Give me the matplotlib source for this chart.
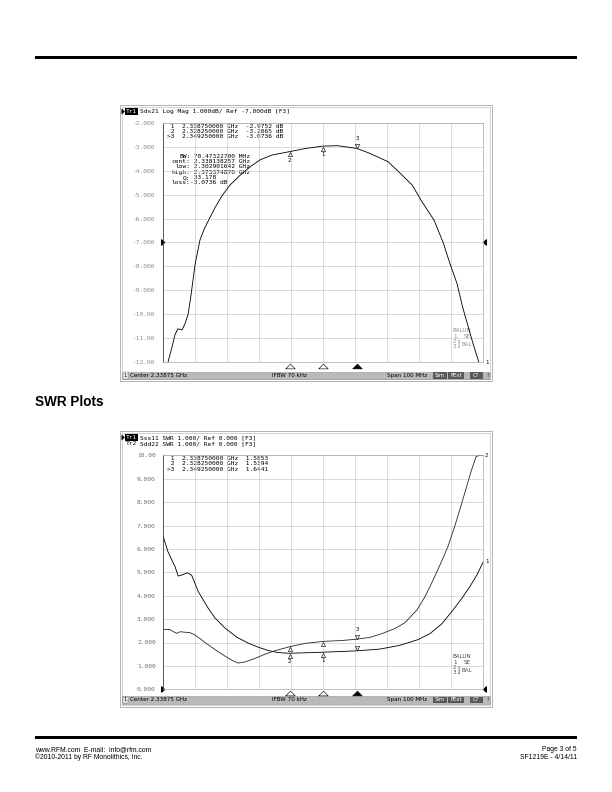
import numpy as np
import matplotlib
matplotlib.use("Agg")
import matplotlib.pyplot as plt
from matplotlib.patches import Rectangle, Polygon
from matplotlib.transforms import offset_copy, blended_transform_factory

# ---------------- data ----------------
f_center_ghz = 2.33875
f_span_ghz = 0.100

s21_freq_ghz = [2.2896, 2.2902, 2.2915, 2.2924, 2.2933, 2.2946, 2.2955, 2.2965, 2.2974,
                2.2987, 2.3002, 2.3015, 2.3029, 2.3049, 2.3071, 2.3096, 2.3127, 2.3158,
                2.3190, 2.3227, 2.32825, 2.3330, 2.33875, 2.3433, 2.34925, 2.3533,
                2.3590, 2.3627, 2.3665, 2.3696, 2.37337, 2.3762, 2.3783, 2.3805,
                2.3824, 2.3840, 2.3855, 2.3868, 2.3874, 2.3878]
s21_db = [-12.6, -12.0, -11.35, -10.85, -10.6, -10.65, -10.4, -10.0, -9.2,
          -7.9, -6.9, -6.45, -6.07, -5.55, -5.05, -4.6, -4.2, -3.85,
          -3.55, -3.35, -3.2065, -3.08, -2.9752, -2.96, -3.0736, -3.28,
          -3.63, -4.1, -4.6, -5.3, -6.07, -7.0, -7.87, -8.7,
          -9.75, -10.5, -11.2, -11.76, -12.0, -12.6]
s21_yticks = [-2, -3, -4, -5, -6, -7, -8, -9, -10, -11, -12]
s21_ytick_labels = ["-2.000", "-3.000", "-4.000", "-5.000", "-6.000", "-7.000",
                    "-8.000", "-9.000", "-10.00", "-11.00", "-12.00"]
s21_ref_db = -7.0

swr_tr1_freq_ghz = [2.28875, 2.2902, 2.2915, 2.2924, 2.2934, 2.2949, 2.2962, 2.2976,
                    2.2997, 2.3028, 2.3049, 2.3080, 2.3118, 2.3152, 2.3184, 2.3215,
                    2.3246, 2.32825, 2.3330, 2.33875, 2.3440, 2.34925, 2.3565, 2.3627,
                    2.3683, 2.3721, 2.3758, 2.3793, 2.3821, 2.3846, 2.3868, 2.38875]
swr_tr1 = [6.52, 5.88, 5.5, 5.25, 4.84, 4.9, 4.98, 4.88,
           4.17, 3.46, 3.05, 2.62, 2.22, 1.98, 1.8, 1.66,
           1.57, 1.5394, 1.56, 1.5853, 1.615, 1.6441, 1.72, 1.88,
           2.12, 2.38, 2.8, 3.39, 3.9, 4.4, 4.9, 5.45]

swr_tr2_freq_ghz = [2.28875, 2.2908, 2.2929, 2.2940, 2.2955, 2.2971, 2.2987, 2.3018,
                    2.3049, 2.3080, 2.3105, 2.3122, 2.3143, 2.3174, 2.3205, 2.3237,
                    2.32825, 2.3330, 2.33875, 2.3440, 2.34925, 2.3533, 2.3571, 2.3612,
                    2.3643, 2.3680, 2.3705, 2.3730, 2.3755, 2.3777, 2.3799, 2.3818,
                    2.3833, 2.3849, 2.3865, 2.3877, 2.38875]
swr_tr2 = [2.56, 2.55, 2.39, 2.46, 2.44, 2.42, 2.32, 2.0,
           1.7, 1.42, 1.22, 1.12, 1.17, 1.32, 1.5, 1.65,
           1.82, 1.96, 2.05, 2.08, 2.14, 2.22, 2.38, 2.6,
           2.85, 3.39, 3.95, 4.65, 5.4, 6.1, 7.0, 7.85,
           8.55, 9.3, 9.95, 10.0, 10.0]
swr_yticks = [0, 1, 2, 3, 4, 5, 6, 7, 8, 9, 10]
swr_ytick_labels = ["0.000", "1.000", "2.000", "3.000", "4.000", "5.000",
                    "6.000", "7.000", "8.000", "9.000", "10.00"]
swr_ref = 0.0

marker_freq_ghz = [2.33875, 2.32825, 2.34925]
marker_freq_text = ["2.338750000", "2.328250000", "2.349250000"]
marker_names = [" 1", " 2", ">3"]
s21_marker_db = [-2.9752, -3.2065, -3.0736]
s21_marker_text = ["-2.9752 dB", "-3.2065 dB", "-3.0736 dB"]
swr_tr1_marker = [1.5853, 1.5394, 1.6441]
swr_tr1_marker_text = ["1.5853", "1.5394", "1.6441"]
swr_tr2_marker = [2.05, 1.82, 2.14]

bw_labels = ["BW:", "cent:", "low:", "high:", "Q:", "loss:"]
bw_values = [" 70.47322700 MHz", " 2.338138257 GHz", " 2.302901642 GHz",
             " 2.373374870 GHz", " 33.178", "-3.0736 dB"]

# ---------------- figure ----------------
W, H = 612, 792
fig = plt.figure(figsize=(W / 72, H / 72), dpi=72)
page = fig.add_axes([0, 0, 1, 1], zorder=0)
page.set_xlim(0, W)
page.set_ylim(H, 0)
page.axis("off")

MONO = "DejaVu Sans Mono"
SANS = "Liberation Sans"
SCR = "DejaVu Sans"


def ptext(x, y, s, size=6.2, family=MONO, color="black", ha="left", va="center",
          weight="normal"):
    page.text(x, y, s, fontsize=size, family=family, color=color, ha=ha, va=va,
              fontweight=weight)


# page rules and headings
page.add_patch(Rectangle((35, 55.5), 542, 3, fc="black", ec="none"))
page.add_patch(Rectangle((35, 736), 542, 3, fc="black", ec="none"))
ptext(35, 405.5, "SWR Plots", size=13.5, family=SANS, weight="bold", va="baseline")
ptext(35, 749.5, "www.RFM.com  E-mail:  info@rfm.com", size=6.8, family=SANS)
ptext(35, 757.5, "\u00a92010-2011 by RF Monolithics, Inc.", size=6.8, family=SANS)
ptext(577, 749.5, "Page 3 of 5", size=6.8, family=SANS, ha="right")
ptext(577, 757.5, "SF1219E - 4/14/11", size=6.8, family=SANS, ha="right")

f_start = f_center_ghz - f_span_ghz / 2
f_stop = f_center_ghz + f_span_ghz / 2


def window(y0, y1, status_y):
    page.add_patch(Rectangle((119.5, y0), 372.5, y1 - y0, fill=False, ec="#b4b4b4", lw=1.0))
    page.add_patch(Rectangle((122, y0 + 2.5), 367.5, y1 - y0 - 4.5, fill=False,
                             ec="#c8c8c8", lw=0.8))
    # status bar
    page.add_patch(Rectangle((122, status_y), 367.5, 7.8, fc="#b9b9b9", ec="#8c8c8c", lw=0.5))
    cy = status_y + 3.9
    page.add_patch(Rectangle((122.5, status_y + 0.8), 5, 6.2, fc="#f0f0f0", ec="#707070", lw=0.4))
    ptext(125, cy, "1", size=5.3, family=SCR, ha="center")
    ptext(129.5, cy, "Center 2.33875 GHz", size=5.6, family=SCR)
    ptext(271.5, cy, "IFBW 70 kHz", size=5.6, family=SCR)
    ptext(387, cy, "Span 100 MHz", size=5.6, family=SCR)
    for (bx, bw, s) in [(432.5, 14, "Sim"), (448, 16, "PExt"), (469.5, 13, "C?")]:
        page.add_patch(Rectangle((bx, status_y + 0.8), bw, 6.2, fc="#585858", ec="none"))
        ptext(bx + bw / 2, cy, s, size=5.3, family=SCR, color="white", ha="center")
    ptext(487, cy, "!", size=5.6, family=SCR, ha="center")


def title_row(y, tr, rest, active):
    if active:
        page.add_patch(Polygon([(121.5, y - 3), (121.5, y + 3), (125, y)], closed=True,
                               fc="black", ec="none"))
        page.add_patch(Rectangle((125.3, y - 3.6), 12.6, 7.2, fc="black", ec="none"))
        ptext(126, y, tr, size=6.2, color="white")
    else:
        ptext(126, y, tr, size=6.2)
    ptext(140.5, y, rest, size=6.2)


def plot_axes(x0, y0, x1, y1, ylim, yticks, yticklabels, tick_color):
    ax = fig.add_axes([x0 / W, 1 - y1 / H, (x1 - x0) / W, (y1 - y0) / H], zorder=2)
    ax.patch.set_alpha(0)
    ax.set_xlim(f_start, f_stop)
    ax.set_ylim(*ylim)
    ax.set_xticks(np.linspace(f_start, f_stop, 11))
    ax.set_yticks(yticks)
    ax.set_yticklabels(yticklabels, family=MONO, fontsize=6.3, color=tick_color)
    ax.tick_params(axis="both", length=0, pad=7.5)
    ax.tick_params(axis="x", labelbottom=False)
    ax.grid(True, color="#cdcdcd", lw=0.7)
    for side in ["top", "right", "bottom"]:
        ax.spines[side].set_color("#a8a8a8")
        ax.spines[side].set_linewidth(0.7)
    ax.spines["left"].set_color("#3a3a3a")
    ax.spines["left"].set_linewidth(0.8)
    return ax


def stimulus_and_ref(ax, ref_val):
    bt = blended_transform_factory(ax.transData, ax.transAxes)
    tri_up = [(-2, -1), (2, -1), (0, 1), (-2, -1)]
    for i, f in enumerate(marker_freq_ghz):
        filled = (i == 2)
        ax.plot([f], [0], transform=offset_copy(bt, fig, y=-3.4, units="points"),
                marker=tri_up, ms=9.5, mfc="black" if filled else "white", mec="black",
                mew=0.6, clip_on=False, ls="none")
    bl = blended_transform_factory(ax.transAxes, ax.transData)
    ax.plot([0], [ref_val], transform=offset_copy(bl, fig, x=-2.4, units="points"),
            marker=[(0, -3), (0, 3), (3.5, 0), (0, -3)], ms=6.5, mfc="black", mec="black",
            clip_on=False, ls="none")
    ax.plot([1], [ref_val], transform=offset_copy(bl, fig, x=2.6, units="points"),
            marker=[(0, -3), (0, 3), (-3.5, 0), (0, -3)], ms=6.5, mfc="black", mec="black",
            clip_on=False, ls="none")


def trace_markers(ax, vals, numbers_below, number_above):
    for i, (f, v) in enumerate(zip(marker_freq_ghz, vals)):
        if i == 2:
            ax.plot([f], [v], transform=offset_copy(ax.transData, fig, y=2.6, units="points"),
                    marker="v", ms=4.2, mfc="white", mec="black", mew=0.6, ls="none")
            if number_above:
                ax.annotate("3", (f, v), xytext=(0, 9.5), textcoords="offset points",
                            ha="center", va="center", fontsize=5.6, family=MONO)
        else:
            ax.plot([f], [v], transform=offset_copy(ax.transData, fig, y=-2.6, units="points"),
                    marker="^", ms=4.2, mfc="white", mec="black", mew=0.6, ls="none")
            if numbers_below:
                ax.annotate(str(i + 1), (f, v), xytext=(0, -8.5), textcoords="offset points",
                            ha="center", va="center", fontsize=5.6, family=MONO)


def trace_end_label(ax, s, val, ylim):
    y = min(max(val, ylim[0]), ylim[1])
    ax.annotate(s, (f_stop, y), xytext=(3.2, 0), textcoords="offset points",
                ha="center", va="center", fontsize=5.6, family=MONO, annotation_clip=False)


def balun_legend(y0, color):
    ptext(452.5, y0, "BALUN", size=5.6, family=SCR, color=color)
    ptext(453, y0 + 5.6, "1", size=5.6, family=SCR, color=color)
    ptext(463.5, y0 + 5.6, "SE", size=5.6, family=SCR, color=color)
    ptext(453, y0 + 10.6, "2", size=5.6, family=SCR, color=color)
    ptext(453, y0 + 15.6, "3", size=5.6, family=SCR, color=color)
    ptext(456.5, y0 + 13.1, "]", size=8, family=SCR, color=color)
    ptext(462, y0 + 13.1, "BAL", size=5.6, family=SCR, color=color)


# ---------------- top chart: Sds21 ----------------
window(104.5, 381, 371.5)
title_row(111.5, "Tr1", "Sds21 Log Mag 1.000dB/ Ref -7.000dB [F3]", True)
ax1 = plot_axes(163.3, 122.7, 483.3, 362.3, (-12, -2), s21_yticks, s21_ytick_labels, "#8c8c8c")
for k in range(3):
    yy = 126.3 + 5.3 * k
    ptext(167, yy, f"{marker_names[k]}  {marker_freq_text[k]} GHz  {s21_marker_text[k]}")
for k in range(6):
    yy = 156 + 5.4 * k
    ptext(190.5, yy, bw_labels[k], ha="right")
    ptext(190.5, yy, bw_values[k])
ax1.plot(s21_freq_ghz, s21_db, color="black", lw=0.85)
trace_markers(ax1, s21_marker_db, True, True)
stimulus_and_ref(ax1, s21_ref_db)
trace_end_label(ax1, "1", s21_db[-1], (-12, -2))
balun_legend(331, "#8f8f8f")

# ---------------- bottom chart: SWR ----------------
window(430.5, 706.5, 696)
title_row(437.5, "Tr1", "Sss11 SWR 1.000/ Ref 0.000 [F3]", True)
title_row(443.6, "Tr2", "Sdd22 SWR 1.000/ Ref 0.000 [F3]", False)
ax2 = plot_axes(163.3, 455.3, 483.3, 689.3, (0, 10), swr_yticks, swr_ytick_labels, "#6e6e6e")
for k in range(3):
    yy = 458.6 + 5.3 * k
    ptext(167, yy, f"{marker_names[k]}  {marker_freq_text[k]} GHz  {swr_tr1_marker_text[k]}")
ax2.plot(swr_tr1_freq_ghz, swr_tr1, color="black", lw=0.85)
ax2.plot(swr_tr2_freq_ghz, swr_tr2, color="#202020", lw=0.8)
trace_markers(ax2, swr_tr1_marker, True, False)
trace_markers(ax2, swr_tr2_marker, False, True)
stimulus_and_ref(ax2, swr_ref)
trace_end_label(ax2, "1", swr_tr1[-1], (0, 10))
trace_end_label(ax2, "2", swr_tr2[-1], (0, 10))
balun_legend(657, "#4a4a4a")

fig.savefig("out.png", dpi=72, facecolor="white")
